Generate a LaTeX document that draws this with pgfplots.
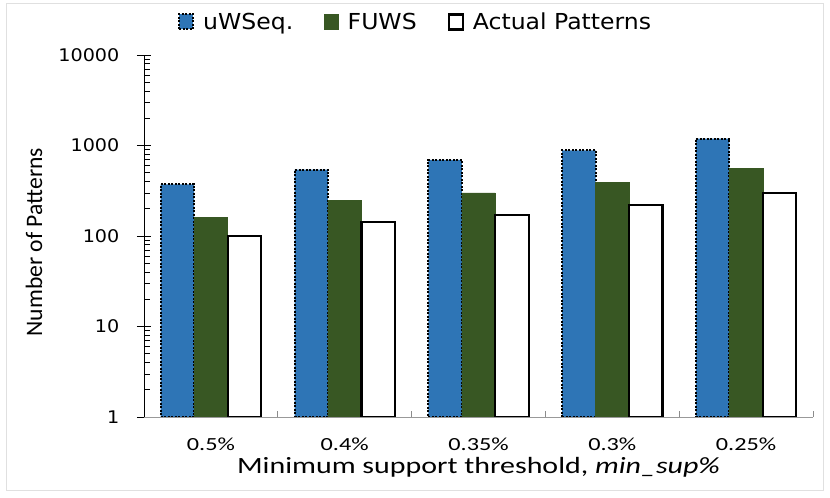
\documentclass[border=0pt]{standalone}
\usepackage{pgfplots}
\pgfplotsset{compat=1.18}
\usepackage{fontspec}
\setmainfont{Carlito}
\newfontfamily\legf[FakeStretch=1.07]{DejaVu Sans}
\newfontfamily\ytf[FakeStretch=1.1]{DejaVu Sans}
\newfontfamily\xtf[FakeStretch=1.31]{Carlito}
\newfontfamily\xlf[FakeStretch=1.285]{Carlito}
\newfontfamily\ylf{Carlito}
\definecolor{barblue}{RGB}{46,117,182}
\definecolor{bargreen}{RGB}{56,87,35}
\pgfplotsset{mylegend/.style={legend image code/.code={\draw[##1] (0bp,-7.5bp) rectangle (14bp,7.5bp);}}}
\begin{document}
\begin{tikzpicture}
\useasboundingbox (0,0) rectangle (830bp,498bp);
\fill[white] (0,0) rectangle (830bp,498bp);
\draw[black!12, line width=0.8bp] (6bp,8bp) rectangle (823bp,495bp);
\begin{axis}[
  at={(144bp,81bp)}, anchor=south west,
  scale only axis, width=669bp, height=362bp,
  ymode=log, ymin=1, ymax=10000,
  xmin=-0.5, xmax=4.5,
  ybar=0pt, bar width=33.45bp,
  axis lines*=left,
  x axis line style={black!40, line width=1bp},
  y axis line style={black, line width=0.8bp},
  tick align=inside,
  major tick length=14bp, minor tick length=6bp,
  every major y tick/.append style={xshift=-7bp},
  ytick={1,10,100,1000,10000},
  yticklabels={1,10,100,1000,10000},
  minor ytick={2,3,...,9,20,30,...,90,200,300,...,900,2000,3000,...,9000},
  ytick style={black, line width=0.6bp},
  xtick={0,...,4},
  xticklabels={0.5\%,0.4\%,0.35\%,0.3\%,0.25\%},
  minor xtick={-0.5,0.5,1.5,2.5,3.5,4.5},
  xtick style={black!45, line width=0.8bp},
  yticklabel style={anchor=east, inner sep=0pt, xshift=-24.5bp, font=\ytf\fontsize{17.4bp}{20bp}\selectfont},
  xticklabel style={anchor=center, inner sep=0pt, yshift=-27bp, font=\xtf\fontsize{18.5bp}{21bp}\selectfont},
  xlabel={Minimum support threshold, \textit{min\_sup\%}},
  every axis x label/.style={at={(axis description cs:0.5,-0.138)}, anchor=center, font=\xlf\fontsize{23.3bp}{28bp}\selectfont},
  ylabel={Number of Patterns},
  every axis y label/.style={at={(axis description cs:-0.1644,0.483)}, anchor=center, rotate=90, font=\ylf\fontsize{23.6bp}{28bp}\selectfont},
  legend columns=3,
  legend style={at={(axis description cs:0.0508,1.0912)}, anchor=west, draw=none, fill=none, inner sep=0pt,
    font=\legf\fontsize{22bp}{26bp}\selectfont,
    nodes={inner sep=0pt},
    /tikz/every even column/.append style={column sep=31bp},
    /tikz/every odd column/.append style={column sep=9bp}},
]
\addplot[fill=barblue, draw=black, line width=2bp, dash pattern=on 2bp off 1.5bp, mylegend]
  coordinates {(0,373) (1,540) (2,692) (3,883) (4,1189)};
\addplot[fill=bargreen, draw=bargreen, line width=0.5bp, mylegend]
  coordinates {(0,162) (1,248) (2,299) (3,395) (4,554)};
\addplot[fill=white, draw=black, line width=2.2bp, mylegend]
  coordinates {(0,100) (1,143) (2,172) (3,222) (4,299)};
\legend{uWSeq., FUWS, Actual Patterns}
\end{axis}
\end{tikzpicture}
\end{document}
